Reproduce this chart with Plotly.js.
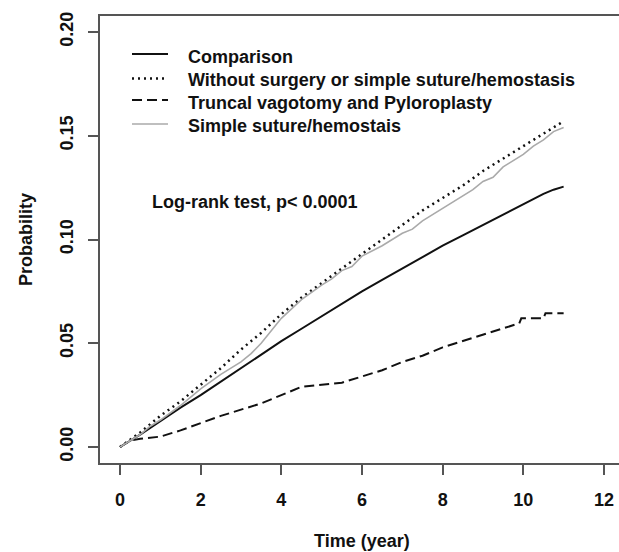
<!DOCTYPE html>
<html>
<head>
<meta charset="utf-8">
<script src="https://cdn.plot.ly/plotly-3.0.1.min.js"></script>
<style>html,body{margin:0;padding:0;background:#fff;overflow:hidden;}</style>
</head>
<body>
<div id="chart" style="width:619px;height:552px;"></div>
<script>
// ---- data ----
const seriesNames = [
  "Comparison",
  "Without surgery or simple suture/hemostasis",
  "Truncal vagotomy and Pyloroplasty",
  "Simple suture/hemostais"
];

const compT = [0, 0.5, 1, 1.5, 2, 2.5, 3, 3.5, 4, 4.5, 5, 5.5, 6, 6.5, 7, 7.5, 8, 8.5, 9, 9.5, 10, 10.5, 10.75, 11];
const compP = [0, 0.006, 0.0125, 0.019, 0.025, 0.0315, 0.038, 0.0445, 0.051, 0.057, 0.063, 0.069, 0.075, 0.0805, 0.086, 0.0915, 0.097, 0.102, 0.107, 0.112, 0.117, 0.122, 0.124, 0.1255];

const withoutT = [0, 0.5, 1, 1.5, 2, 2.5, 3, 3.5, 4, 4.5, 5, 5.5, 6, 6.5, 7, 7.5, 8, 8.5, 9, 9.5, 10, 10.5, 11];
const withoutP = [0, 0.007, 0.015, 0.022, 0.030, 0.038, 0.047, 0.055, 0.064, 0.072, 0.079, 0.086, 0.093, 0.100, 0.107, 0.114, 0.120, 0.126, 0.133, 0.139, 0.145, 0.151, 0.157];

const truncalT = [0, 0.25, 0.5, 1, 1.5, 2, 2.5, 3, 3.5, 4, 4.5, 5, 5.5, 6, 6.5, 7, 7.5, 8, 8.5, 9, 9.5, 9.9, 9.95, 10.5, 10.55, 11];
const truncalP = [0, 0.003, 0.004, 0.005, 0.008, 0.0115, 0.015, 0.018, 0.021, 0.025, 0.029, 0.030, 0.031, 0.034, 0.037, 0.041, 0.044, 0.048, 0.051, 0.054, 0.057, 0.0596, 0.062, 0.062, 0.0645, 0.0645];

const simpleT = [0, 0.25, 0.5, 0.75, 1, 1.5, 2, 2.5, 3, 3.25, 3.5, 4, 4.5, 5, 5.25, 5.5, 5.75, 6, 6.5, 7, 7.25, 7.5, 8, 8.5, 8.75, 9, 9.25, 9.5, 10, 10.25, 10.5, 10.75, 11];
const simpleP = [0, 0.003, 0.006, 0.010, 0.013, 0.020, 0.028, 0.035, 0.041, 0.045, 0.050, 0.062, 0.071, 0.078, 0.081, 0.085, 0.087, 0.092, 0.097, 0.103, 0.105, 0.109, 0.115, 0.121, 0.124, 0.128, 0.130, 0.135, 0.141, 0.145, 0.148, 0.152, 0.154];

const xTicks = [0, 2, 4, 6, 8, 10, 12];
const yTicks = [0, 0.05, 0.10, 0.15, 0.20];
const yTickText = ["0.00", "0.05", "0.10", "0.15", "0.20"];

const annotationText = "Log-rank test, p< 0.0001";
const xTitle = "Time (year)";
const yTitle = "Probability";

// ---- styles ----
const styles = [
  {color: "#111111", width: 2, dash: "solid"},
  {color: "#111111", width: 2.5, dash: "2px,4px"},
  {color: "#111111", width: 2, dash: "10px,5px"},
  {color: "#aaaaaa", width: 1.6, dash: "solid"}
];
const xs = [compT, withoutT, truncalT, simpleT];
const ys = [compP, withoutP, truncalP, simpleP];

const traces = seriesNames.map((n, i) => ({
  type: "scatter", mode: "lines", name: n,
  x: xs[i], y: ys[i],
  line: {color: styles[i].color, width: styles[i].width, dash: styles[i].dash},
  showlegend: false, hoverinfo: "skip"
}));

// manual legend (paper coords)
const L = 100, PW = 519, B = 463, PH = 447;
const px = v => (v - L) / PW;
const py = v => (B - v) / PH;
const legLineY = [54, 78.5, 100, 124];
const legTextY = [57, 80, 103, 126];

const shapes = seriesNames.map((n, i) => ({
  type: "line", xref: "paper", yref: "paper",
  x0: px(132), x1: px(168), y0: py(legLineY[i]), y1: py(legLineY[i]),
  line: {color: styles[i].color, width: styles[i].width, dash: styles[i].dash}
}));

const font = {family: "Liberation Sans, Arial, sans-serif", size: 18, color: "#111111", weight: "bold"};

const annotations = seriesNames.map((n, i) => ({
  text: n, xref: "paper", yref: "paper", x: px(186), y: py(legTextY[i]),
  xanchor: "left", yanchor: "middle", showarrow: false, font: font
}));
annotations.push({
  text: annotationText, xref: "paper", yref: "paper", x: px(150), y: py(202),
  xanchor: "left", yanchor: "middle", showarrow: false, font: font
});
annotations.push({
  text: xTitle, xref: "paper", yref: "paper", x: px(362), y: py(541),
  xanchor: "center", yanchor: "middle", showarrow: false, font: font
});
annotations.push({
  text: yTitle, xref: "paper", yref: "paper", x: px(26), y: py(240),
  xanchor: "center", yanchor: "middle", textangle: -90, showarrow: false, font: font
});

const axisCommon = {
  showline: true, linecolor: "#555555", linewidth: 2,
  ticks: "outside", ticklen: 10, tickwidth: 2, tickcolor: "#555555",
  showgrid: false, zeroline: false, tickfont: font, fixedrange: true
};

const layout = {
  width: 619, height: 552,
  margin: {l: 100, r: 0, t: 16, b: 89, pad: 0},
  paper_bgcolor: "#ffffff", plot_bgcolor: "#ffffff",
  font: font,
  showlegend: false,
  xaxis: Object.assign({}, axisCommon, {
    range: [-20 / 40.33, 499 / 40.33], mirror: true,
    tickmode: "array", tickvals: xTicks, ticktext: xTicks.map(String),
    ticklabelstandoff: 9
  }),
  yaxis: Object.assign({}, axisCommon, {
    range: [-16 / 2075, 431 / 2075], mirror: false,
    tickmode: "array", tickvals: yTicks, ticktext: yTickText,
    tickangle: -90, ticklabelstandoff: 8
  }),
  shapes: shapes,
  annotations: annotations
};

Plotly.newPlot("chart", traces, layout, {displayModeBar: false, staticPlot: true});
</script>
</body>
</html>
